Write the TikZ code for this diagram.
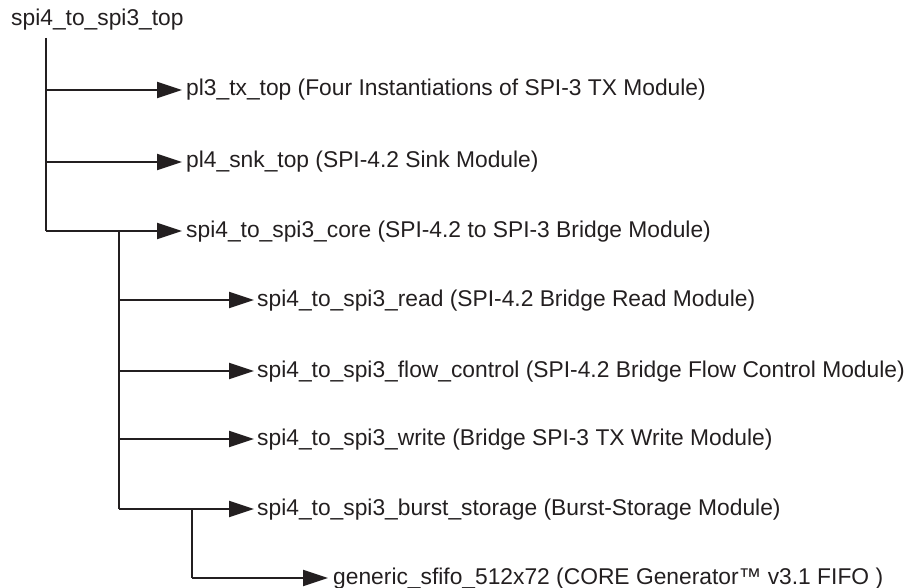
\documentclass[tikz,border=0pt]{standalone}
\usepackage{fontspec}
\setmainfont{Liberation Sans}
\usetikzlibrary{arrows.meta}
\definecolor{ink}{HTML}{231F20}
\begin{document}
\begin{tikzpicture}[x=1pt,y=-1pt,
  lbl/.style={anchor=west,inner sep=0pt,text=ink,font=\fontsize{22.8}{27}\selectfont,text height=16pt,text depth=4pt},
  link/.style={draw=ink,line width=2.3pt,-{Triangle[length=25pt,width=16pt]}},
  trunk/.style={draw=ink,line width=2.3pt}]
\useasboundingbox (0,0) rectangle (910,588);
\node[lbl] (top) at (11,20) {spi4\_to\_spi3\_top};
\node[lbl] (a1) at (186,90) {pl3\_tx\_top (Four Instantiations of SPI-3 TX Module)};
\node[lbl] (a2) at (186,162) {pl4\_snk\_top (SPI-4.2 Sink Module)};
\node[lbl] (a3) at (186,231) {spi4\_to\_spi3\_core (SPI-4.2 to SPI-3 Bridge Module)};
\node[lbl] (b1) at (257,300) {spi4\_to\_spi3\_read (SPI-4.2 Bridge Read Module)};
\node[lbl] (b2) at (257,371) {spi4\_to\_spi3\_flow\_control (SPI-4.2 Bridge Flow Control Module)};
\node[lbl] (b3) at (257,439) {spi4\_to\_spi3\_write (Bridge SPI-3 TX Write Module)};
\node[lbl] (b4) at (257,509) {spi4\_to\_spi3\_burst\_storage (Burst-Storage Module)};
\node[lbl] (c1) at (333,578) {generic\_sfifo\_512x72 (CORE Generator™ v3.1 FIFO )};
% trunk lines
\coordinate (t0) at (46,38);
\coordinate (t1) at (46,90);
\coordinate (t2) at (46,162);
\coordinate (t3) at (46,231);
\coordinate (u0) at (119,231);
\coordinate (u1) at (119,300);
\coordinate (u2) at (119,371);
\coordinate (u3) at (119,439);
\coordinate (u4) at (119,509);
\coordinate (v0) at (192,509);
\coordinate (v1) at (192,578);
\draw[trunk] (t0) -- (t3);
\draw[trunk] (u0) -- (u4);
\draw[trunk] (v0) -- (v1);
\draw[link] (t1) -- ([xshift=-4pt]a1.west);
\draw[link] (t2) -- ([xshift=-4pt]a2.west);
\draw[link] (t3) -- ([xshift=-4pt]a3.west);
\draw[link] (u1) -- ([xshift=-3pt]b1.west);
\draw[link] (u2) -- ([xshift=-3pt]b2.west);
\draw[link] (u3) -- ([xshift=-3pt]b3.west);
\draw[link] (u4) -- ([xshift=-3pt]b4.west);
\draw[link] (v1) -- ([xshift=-5pt]c1.west);
\end{tikzpicture}
\end{document}
